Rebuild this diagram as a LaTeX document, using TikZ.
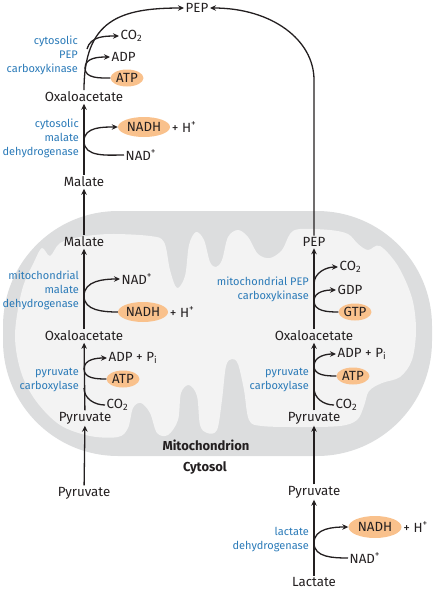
\documentclass[tikz,border=0pt]{standalone}
\usepackage{fontspec}
\setmainfont{Fira Sans}
\usepackage{tikz}
\usetikzlibrary{arrows.meta,positioning,shapes.geometric}
\definecolor{enzc}{HTML}{2A7AB8}
\definecolor{cofc}{HTML}{F9C18C}
\definecolor{membc}{HTML}{DCDDDE}
\definecolor{matc}{HTML}{F3F3F3}
\definecolor{linec}{HTML}{231F20}

\begin{document}
\begin{tikzpicture}[x=1pt,y=-1pt,
  mol/.style={font=\fontsize{13.3}{13.3}\selectfont, text=linec, inner sep=1.5pt},
  prod/.style={mol, anchor=west},
  enz/.style={font=\fontsize{11}{14}\selectfont, text=enzc, align=right, anchor=east, inner sep=0pt},
  cof/.style={ellipse, fill=cofc, inner sep=0pt, minimum width=33pt, minimum height=17pt,
    font=\fontsize{13.3}{13.3}\selectfont, text=linec},
  rx/.style={line width=1.3pt, draw=linec},
  rxa/.style={rx, -{Stealth[length=6pt,width=5.5pt]}},
  comp/.style={font=\bfseries\fontsize{13}{13}\selectfont, text=linec}]
  \useasboundingbox (0,0) rectangle (436,590);
  % mitochondrion
  \fill[membc, rounded corners=115pt] (3,211) rectangle (432,456);
  \fill[matc] plot[smooth cycle, tension=0.55] coordinates {
    (15,335) (22,290) (34,262) (42,248) (50,256) (60,243) (80,237) (110,234)
    (150,236) (164,242) (170,270) (177,288) (185,276) (189,245) (196,232)
    (204,240) (210,262) (216,267) (222,260) (228,237) (238,230) (248,237)
    (258,254) (270,258) (282,250) (290,234) (300,229) (330,230) (348,234)
    (358,244) (368,250) (380,246) (398,266) (412,298) (416,330) (412,360)
    (400,377) (382,383) (369,391) (364,406) (357,420) (340,426) (300,427)
    (262,426) (249,420) (244,390) (238,364) (232,359) (226,366) (222,400)
    (217,430) (207,433) (200,425) (197,396) (189,385) (181,393) (178,420)
    (168,435) (157,433) (150,413) (141,403) (133,408) (128,428) (118,437)
    (90,436) (60,425) (36,401) (21,372)};
  \node[comp] (mito) at (206,445) {Mitochondrion};
  \node[comp] (cyto) at (205,468) {Cytosol};

  % left pathway
  \node[mol] (pyrl) at (84,493) {Pyruvate};
  \node[mol] (pyrm) at (85,418) {Pyruvate};
  \node[mol] (oaam) at (84,336) {Oxaloacetate};
  \node[mol] (malm) at (84,242) {Malate};
  \node[mol] (malc) at (84,182) {Malate};
  \node[mol] (oaac) at (84,97) {Oxaloacetate};
  \node[mol] (pepc) at (197,8) {PEP};

  \node[prod] (co2m) at (105,405) {CO\textsubscript{2}};
  \node[cof] (atpm) at (123,379) {ATP};
  \node[prod] (adpm) at (107,358) {ADP + P\textsubscript{i}};
  \node[enz] (pcm) at (79,380) {pyruvate\\carboxylase};

  \node[cof, minimum width=50pt, minimum height=20pt] (nadhm) at (143,312) {NADH};
  \node[mol, right=0pt of nadhm] (hm) {+ H\textsuperscript{+}};
  \node[prod] (nadm) at (120,279) {NAD\textsuperscript{+}};
  \node[enz] (mdhm) at (79,290) {mitochondrial\\malate\\dehydrogenase};

  \node[prod] (nadc) at (124,155) {NAD\textsuperscript{+}};
  \node[cof, minimum width=52pt, minimum height=20pt] (nadhc) at (144,127) {NADH};
  \node[mol, right=0pt of nadhc] (hc) {+ H\textsuperscript{+}};
  \node[enz] (mdhc) at (79,138) {cytosolic\\malate\\dehydrogenase};

  \node[cof] (atpc) at (127,78) {ATP};
  \node[prod] (adpc) at (110,57) {ADP};
  \node[prod] (co2c) at (119,36) {CO\textsubscript{2}};
  \node[enz] (pckc) at (78,55) {cytosolic\\PEP\\carboxykinase};

  % right pathway
  \node[mol] (lac) at (314,582) {Lactate};
  \node[mol] (pyrc) at (314,492) {Pyruvate};
  \node[mol] (pyrr) at (314,418) {Pyruvate};
  \node[mol] (oaar) at (314,336) {Oxaloacetate};
  \node[mol] (pepm) at (314,242) {PEP};

  \node[prod] (nadl) at (348,558) {NAD\textsuperscript{+}};
  \node[cof, minimum width=53pt, minimum height=22pt] (nadhl) at (375,527) {NADH};
  \node[mol, right=0pt of nadhl] (hl) {+ H\textsuperscript{+}};
  \node[enz] (ldh) at (309,540) {lactate\\dehydrogenase};

  \node[prod] (co2r) at (334,405) {CO\textsubscript{2}};
  \node[cof] (atpr) at (353,376) {ATP};
  \node[prod] (adpr) at (336,354) {ADP + P\textsubscript{i}};
  \node[enz] (pcr) at (309,380) {pyruvate\\carboxylase};

  \node[cof] (gtpr) at (355,312) {GTP};
  \node[prod] (gdpr) at (336,290) {GDP};
  \node[prod] (co2p) at (338,267) {CO\textsubscript{2}};
  \node[enz] (pckm) at (309,289) {mitochondrial PEP\\carboxykinase};

  % main arrows
  \draw[rxa] (pyrl) -- (pyrm);
  \draw[rxa] (pyrm) -- (oaam);
  \draw[rxa] (oaam) -- (malm);
  \draw[rxa] (malm) -- (malc);
  \draw[rxa] (malc) -- (oaac);
  \draw[rxa] (oaac.north) .. controls (84,20) and (120,8) .. (pepc.west);
  \draw[rxa] (lac) -- (pyrc);
  \draw[rxa] (pyrc) -- (pyrr);
  \draw[rxa] (pyrr) -- (oaar);
  \draw[rxa] (oaar) -- (pepm);
  \coordinate (pepbend) at (314,80);
  \draw[rxa] (pepm.north) -- (pepbend) .. controls (314,40) and (272,8) .. (pepc.east);

  % side reactions
  \coordinate (kpc1) at (84,369);
  \coordinate (kpc2) at (84,388);
  \draw[rxa] (atpm.west) to[out=180,in=-90] (kpc1) to[out=90,in=180] (adpm.west);
  \draw[rx] (co2m.west) to[out=180,in=-90] (kpc2);
  \coordinate (kmd1) at (84,296);
  \draw[rxa] (nadhm.west) to[out=180,in=-90] (kmd1) to[out=90,in=180] (nadm.west);
  \coordinate (kmd2) at (84,141);
  \draw[rxa] (nadc.west) to[out=180,in=-90] (kmd2) to[out=90,in=180] (nadhc.west);
  \coordinate (kck1) at (85,68);
  \coordinate (kck2) at (87,49);
  \draw[rxa] (atpc.west) to[out=180,in=-90] (kck1) to[out=90,in=180] (adpc.west);
  \draw[rxa] (kck2) to[out=75,in=180] (co2c.west);

  \coordinate (kld) at (314,543);
  \draw[rxa] (nadl.west) to[out=180,in=-90] (kld) to[out=90,in=180] (nadhl.west);
  \coordinate (kpr1) at (314,366);
  \coordinate (kpr2) at (314,388);
  \draw[rxa] (atpr.west) to[out=180,in=-90] (kpr1) to[out=90,in=180] (adpr.west);
  \draw[rx] (co2r.west) to[out=180,in=-90] (kpr2);
  \coordinate (kpk1) at (314,301);
  \coordinate (kpk2) at (314,284);
  \draw[rxa] (gtpr.west) to[out=180,in=-90] (kpk1) to[out=90,in=180] (gdpr.west);
  \draw[rxa] (kpk2) to[out=90,in=180] (co2p.west);
\end{tikzpicture}
\end{document}
